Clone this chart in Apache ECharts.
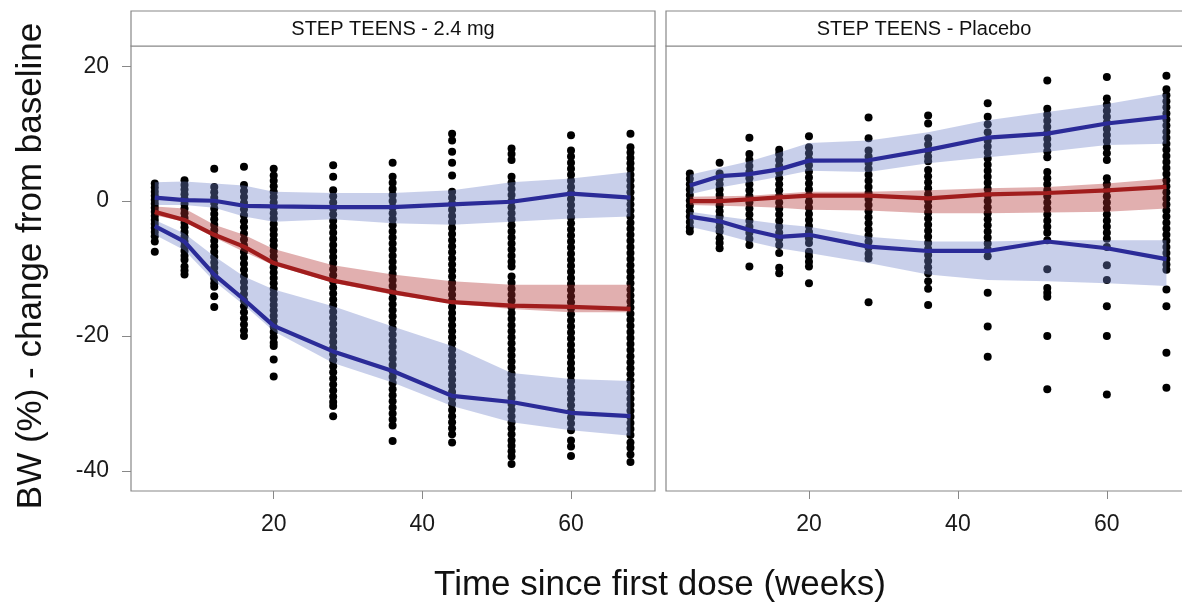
<!DOCTYPE html>
<html>
<head>
<meta charset="utf-8">
<script src="https://cdn.jsdelivr.net/npm/echarts@6/dist/echarts.min.js"></script>
<style>
html,body{margin:0;padding:0;background:#fff;}
#chart{width:1182px;height:606px;}
</style>
</head>
<body>
<div id="chart"></div>
<script>
// ---------------- data ----------------
const weeks = [4, 8, 12, 16, 20, 28, 36, 44, 52, 60, 68];
const xTicks = [20, 40, 60];
const yTicks = [-40, -20, 0, 20];
const panelTitles = ['STEP TEENS - 2.4 mg', 'STEP TEENS - Placebo'];
const xTitle = 'Time since first dose (weeks)';
const yTitle = 'BW (%) - change from baseline';

// Semaglutide 2.4 mg: simulated percentiles (lines) and their CIs (bands)
const semaP95 = [0.5, 0.15, 0.05, -0.7, -0.8, -0.9, -0.9, -0.5, -0.1, 1.1, 0.5];
const semaP95Hi = [2.8, 2.9, 2.6, 2.3, 1.4, 1.2, 1.2, 1.6, 2.8, 3.35, 4.3];
const semaP95Lo = [-0.6, -0.6, -1.0, -2.3, -3.05, -2.7, -3.3, -3.5, -3.05, -2.6, -2.3];
const semaP50 = [-1.6, -2.8, -5.0, -6.75, -9.2, -11.8, -13.5, -15.0, -15.5, -15.7, -16.0];
const semaP50Hi = [-0.8, -1.1, -3.5, -5.0, -7.1, -9.5, -10.9, -11.9, -12.4, -12.4, -12.4];
const semaP50Lo = [-2.1, -3.05, -5.4, -7.5, -9.5, -12.1, -13.9, -15.2, -16.0, -16.5, -16.5];
const semaP05 = [-3.7, -6.0, -10.9, -14.6, -18.5, -22.3, -25.2, -28.9, -29.8, -31.4, -31.9];
const semaP05Hi = [-2.8, -4.8, -8.2, -11.2, -13.1, -15.6, -18.6, -21.5, -25.5, -26.4, -26.7];
const semaP05Lo = [-5.0, -7.3, -11.9, -15.4, -19.3, -24.0, -26.9, -30.4, -32.8, -34.0, -34.8];

// Placebo
const plaP95 = [2.3, 3.7, 4.0, 4.7, 6.0, 6.05, 7.6, 9.4, 10.0, 11.5, 12.5];
const plaP95Hi = [3.9, 4.9, 5.9, 7.2, 8.6, 9.0, 10.2, 12.0, 13.2, 14.4, 15.9];
const plaP95Lo = [1.0, 2.0, 2.8, 3.6, 4.5, 4.3, 5.6, 6.5, 7.3, 8.3, 8.5];
const plaP50 = [0.0, 0.0, 0.25, 0.55, 0.8, 0.8, 0.4, 1.0, 1.2, 1.6, 2.1];
const plaP50Hi = [0.65, 0.7, 0.8, 1.1, 1.4, 1.4, 1.6, 1.9, 2.1, 2.6, 3.35];
const plaP50Lo = [-0.6, -0.7, -0.8, -1.0, -1.3, -1.4, -1.8, -1.8, -1.7, -1.6, -1.1];
const plaP05 = [-2.3, -3.0, -4.3, -5.3, -5.0, -6.75, -7.4, -7.4, -6.0, -7.0, -8.6];
const plaP05Hi = [-1.6, -2.2, -2.8, -3.4, -3.8, -5.3, -6.0, -6.0, -5.8, -5.8, -5.8];
const plaP05Lo = [-3.8, -4.8, -6.0, -7.0, -7.7, -9.2, -10.9, -11.7, -11.9, -12.2, -12.6];

// Observed individual values (one list per week), 2.4 mg
const semaObs = [
  [2.6, 2.0, 1.4, 0.8, 0.2, -0.4, -1.0, -1.6, -2.2, -2.8, -3.4, -4.0, -4.6, -5.2, -6.0, -7.5],
  [3.1, 2.4, 1.7, 1.0, 0.3, -0.4, -1.1, -1.8, -2.5, -3.2, -3.9, -4.6, -5.3, -6.0, -6.7, -7.4, -8.1, -8.7, -9.7, -10.3, -10.9],
  [4.8, 2.1, 1.3, 0.5, -0.3, -1.1, -1.9, -2.7, -3.5, -4.3, -5.1, -5.9, -6.7, -7.5, -8.3, -9.1, -9.9, -10.7, -11.5, -12.2, -12.7, -14.1, -15.7],
  [5.1, 2.4, 1.5, 0.6, -0.3, -1.2, -2.1, -3.0, -3.9, -4.8, -5.7, -6.6, -7.5, -8.4, -9.3, -10.2, -11.1, -12.0, -12.9, -13.8, -14.7, -15.6, -16.5, -17.4, -18.3, -19.2, -20.0],
  [4.8, 3.8, 3.0, 2.2, 1.4, 0.6, -0.2, -1.0, -1.8, -2.6, -3.4, -4.2, -5.0, -5.8, -6.6, -7.4, -8.2, -9.0, -9.8, -10.6, -11.4, -12.2, -13.0, -13.8, -14.6, -15.4, -16.2, -17.0, -17.8, -18.6, -19.4, -20.2, -21.0, -21.5, -23.5, -26.0],
  [5.3, 3.6, 1.6, 0.7, -0.2, -1.1, -2.0, -2.9, -3.8, -4.7, -5.6, -6.5, -7.4, -8.3, -9.2, -10.1, -11.0, -11.9, -12.8, -13.7, -14.6, -15.5, -16.4, -17.3, -18.2, -19.1, -20.0, -20.9, -21.8, -22.7, -23.6, -24.5, -25.4, -26.3, -27.2, -28.1, -29.0, -29.8, -30.4, -31.9],
  [5.7, 3.6, 2.7, 1.8, 0.9, 0.0, -0.9, -1.8, -2.7, -3.6, -4.5, -5.4, -6.3, -7.2, -8.1, -9.0, -9.9, -10.8, -11.7, -12.6, -13.5, -14.4, -15.3, -16.2, -17.1, -18.0, -18.9, -19.8, -20.7, -21.6, -22.5, -23.4, -24.3, -25.2, -26.1, -27.0, -27.9, -28.8, -29.7, -30.6, -31.5, -32.4, -33.3, -35.6],
  [10.0, 9.0, 7.3, 5.7, 3.8, 1.4, 0.5, -0.4, -1.3, -2.2, -3.1, -4.0, -4.9, -5.8, -6.7, -7.6, -8.5, -9.4, -10.3, -11.2, -12.1, -13.0, -13.9, -14.8, -15.7, -16.6, -17.5, -18.4, -19.3, -20.2, -21.1, -22.0, -22.9, -23.8, -24.7, -25.6, -26.5, -27.4, -28.3, -29.2, -30.1, -31.0, -31.9, -32.8, -33.7, -34.6, -35.8],
  [7.8, 7.0, 6.1, 3.6, 2.7, 1.8, 0.9, 0.0, -0.9, -1.8, -2.7, -3.6, -4.5, -5.4, -6.3, -7.2, -8.1, -9.0, -9.7, -11.2, -12.1, -13.0, -13.9, -14.8, -15.7, -16.6, -17.5, -18.4, -19.3, -20.2, -21.1, -22.0, -22.9, -23.8, -24.7, -25.6, -26.5, -27.4, -28.3, -29.2, -30.1, -31.0, -31.9, -32.8, -33.7, -34.6, -35.5, -36.3, -37.1, -37.9, -39.0],
  [9.75, 7.5, 6.6, 5.7, 4.8, 3.9, 3.0, 2.1, 1.2, 0.3, -0.6, -1.5, -2.4, -3.3, -4.2, -5.1, -6.0, -6.9, -7.8, -8.7, -9.6, -10.5, -11.4, -12.3, -13.2, -14.1, -15.0, -15.9, -16.8, -17.7, -18.6, -19.5, -20.4, -21.3, -22.2, -23.1, -24.0, -24.9, -25.8, -26.7, -27.6, -28.5, -29.4, -30.3, -31.2, -32.1, -33.0, -34.0, -35.5, -36.4, -37.8],
  [10.0, 8.0, 7.2, 6.4, 5.6, 4.8, 3.9, 3.1, 2.2, 1.3, 0.4, -0.5, -1.4, -2.3, -3.2, -4.1, -5.0, -5.9, -6.8, -7.7, -8.6, -9.5, -10.4, -11.3, -12.2, -13.1, -14.0, -14.9, -15.8, -16.7, -17.6, -18.5, -19.4, -20.3, -21.2, -22.1, -23.0, -23.9, -24.8, -25.7, -26.6, -27.5, -28.4, -29.3, -30.2, -31.1, -32.0, -32.9, -33.8, -34.7, -35.8, -36.6, -37.6, -38.7]
];

// Observed individual values, placebo
const plaObs = [
  [4.1, 3.3, 2.5, 1.7, 0.9, 0.1, -0.7, -1.5, -2.3, -3.1, -3.9, -4.5],
  [5.7, 4.1, 3.3, 2.5, 1.7, 0.9, 0.1, -0.7, -1.5, -2.3, -3.1, -3.9, -4.5, -5.5, -6.2, -7.0],
  [9.4, 7.0, 6.1, 5.2, 4.3, 3.4, 2.5, 1.6, 0.7, -0.2, -1.1, -2.0, -2.9, -3.8, -4.7, -5.6, -6.5, -9.7],
  [7.6, 7.0, 6.1, 5.2, 4.3, 3.4, 2.5, 1.6, 0.7, -0.2, -1.1, -2.0, -2.9, -3.8, -4.7, -5.6, -6.5, -7.7, -9.9, -10.7],
  [9.6, 8.0, 7.1, 6.2, 5.3, 4.4, 3.5, 2.6, 1.7, 0.8, -0.1, -1.0, -1.9, -2.8, -3.7, -4.6, -5.5, -6.2, -7.5, -8.2, -9.0, -9.7, -12.2],
  [12.4, 9.3, 7.5, 6.6, 5.7, 4.8, 3.9, 3.0, 2.1, 1.2, 0.3, -0.6, -1.5, -2.4, -3.3, -4.2, -5.1, -6.0, -6.9, -7.8, -8.5, -15.0],
  [12.7, 11.5, 9.3, 8.4, 7.5, 6.6, 5.9, 4.6, 3.7, 2.8, 1.9, 1.0, 0.1, -0.8, -1.7, -2.6, -3.5, -4.4, -5.3, -6.2, -7.1, -8.0, -8.9, -9.8, -10.7, -11.9, -13.0, -15.4],
  [14.5, 12.5, 11.4, 10.2, 9.0, 8.1, 7.2, 6.3, 5.4, 4.5, 3.6, 2.7, 1.8, 0.9, 0.0, -0.9, -1.8, -2.7, -3.6, -4.5, -5.4, -6.3, -7.2, -8.2, -13.6, -18.6, -23.1],
  [17.9, 13.7, 12.8, 11.9, 11.0, 10.1, 9.2, 8.3, 7.4, 6.5, 4.3, 3.4, 2.5, 1.6, 0.7, -0.2, -1.1, -2.0, -2.9, -3.8, -4.7, -5.8, -10.1, -12.9, -13.6, -14.2, -20.0, -27.9],
  [18.4, 15.2, 14.3, 13.4, 12.5, 11.6, 10.7, 9.8, 8.9, 8.0, 7.1, 6.1, 3.4, 2.5, 1.6, 0.7, -0.2, -1.1, -2.0, -2.9, -3.8, -4.7, -5.6, -6.8, -9.5, -11.7, -15.6, -20.0, -28.7],
  [18.6, 16.6, 15.7, 14.8, 13.9, 13.0, 12.1, 11.2, 10.3, 9.4, 8.5, 7.6, 6.7, 5.8, 4.9, 4.0, 3.1, 2.2, 1.3, 0.4, -0.5, -1.4, -2.3, -3.2, -4.1, -5.0, -5.9, -6.8, -7.7, -8.6, -9.4, -10.2, -13.1, -15.6, -22.5, -27.7]
];

// ---------------- styling ----------------
const FONT = 'Liberation Sans';
const FRAME = '#888888';
const BLUE = '#2b2b98';
const RED = '#a11d1d';
const BLUE_BAND = 'rgba(110,130,200,0.38)';
const RED_BAND = 'rgba(175,45,45,0.38)';
const X_MIN = 0.8, X_MAX = 71.3, Y_MIN = -43, Y_MAX = 23;

const chart = echarts.init(document.getElementById('chart'), null, {renderer: 'canvas'});

function toPts(vals) { return weeks.map((w, i) => [w, vals[i]]); }
function obsPts(obs) {
  const out = [];
  obs.forEach((col, i) => col.forEach(v => out.push([weeks[i], v])));
  return out;
}
function band(idx, hi, lo, color) {
  return {
    type: 'custom', xAxisIndex: idx, yAxisIndex: idx, silent: true, z: 3,
    data: [[weeks[0], hi[0]]],
    renderItem: function (params, api) {
      const pts = [];
      for (let i = 0; i < weeks.length; i++) pts.push(api.coord([weeks[i], hi[i]]));
      for (let i = weeks.length - 1; i >= 0; i--) pts.push(api.coord([weeks[i], lo[i]]));
      return {type: 'polygon', shape: {points: pts}, style: {fill: color, stroke: null}};
    }
  };
}
function line(idx, vals, color) {
  return {
    type: 'line', xAxisIndex: idx, yAxisIndex: idx, data: toPts(vals), z: 4,
    symbol: 'none', silent: true, lineStyle: {color: color, width: 4.2}
  };
}
function scatter(idx, obs) {
  return {
    type: 'scatter', xAxisIndex: idx, yAxisIndex: idx, data: obsPts(obs), z: 2,
    symbol: 'circle', symbolSize: 8, silent: true, itemStyle: {color: '#000', opacity: 1}
  };
}
function xAxis(idx) {
  return {
    type: 'value', gridIndex: idx, min: X_MIN, max: X_MAX,
    axisLine: {show: false, onZero: false}, splitLine: {show: false},
    axisTick: {show: true, customValues: xTicks, length: 8, lineStyle: {color: FRAME}},
    axisLabel: {customValues: xTicks, fontFamily: FONT, fontSize: 23, color: '#1a1a1a', margin: 22}
  };
}
function yAxis(idx, labels) {
  return {
    type: 'value', gridIndex: idx, min: Y_MIN, max: Y_MAX,
    axisLine: {show: false, onZero: false}, splitLine: {show: false},
    axisTick: {show: labels, customValues: yTicks, length: 9, lineStyle: {color: FRAME}},
    axisLabel: {show: labels, customValues: yTicks, fontFamily: FONT, fontSize: 23, color: '#1a1a1a', margin: 22}
  };
}

const option = {
  animation: false,
  backgroundColor: '#fff',
  grid: [
    {left: 131, top: 46, width: 524, height: 445, show: true, borderColor: FRAME, borderWidth: 1.2,
     backgroundColor: 'transparent', containLabel: false, outerBoundsMode: 'none'},
    {left: 666, top: 46, width: 525, height: 445, show: true, borderColor: FRAME, borderWidth: 1.2,
     backgroundColor: 'transparent', containLabel: false, outerBoundsMode: 'none'}
  ],
  xAxis: [xAxis(0), xAxis(1)],
  yAxis: [yAxis(0, true), yAxis(1, false)],
  graphic: [
    {type: 'rect', shape: {x: 131, y: 11, width: 524, height: 35}, style: {fill: '#fff', stroke: FRAME, lineWidth: 1.2}},
    {type: 'rect', shape: {x: 666, y: 11, width: 525, height: 35}, style: {fill: '#fff', stroke: FRAME, lineWidth: 1.2}},
    {type: 'text', x: 393, y: 29, style: {text: panelTitles[0], fontFamily: FONT, fontSize: 20, fill: '#111', align: 'center', verticalAlign: 'middle'}},
    {type: 'text', x: 924, y: 29, style: {text: panelTitles[1], fontFamily: FONT, fontSize: 20, fill: '#111', align: 'center', verticalAlign: 'middle'}},
    {type: 'text', x: 660, y: 585, style: {text: xTitle, fontFamily: FONT, fontSize: 35, fill: '#111', align: 'center', verticalAlign: 'middle'}},
    {type: 'text', x: 31, y: 266, rotation: Math.PI / 2, style: {text: yTitle, fontFamily: FONT, fontSize: 35, fill: '#111', align: 'center', verticalAlign: 'middle'}}
  ],
  series: [
    scatter(0, semaObs),
    band(0, semaP95Hi, semaP95Lo, BLUE_BAND),
    band(0, semaP50Hi, semaP50Lo, RED_BAND),
    band(0, semaP05Hi, semaP05Lo, BLUE_BAND),
    line(0, semaP95, BLUE),
    line(0, semaP50, RED),
    line(0, semaP05, BLUE),
    scatter(1, plaObs),
    band(1, plaP95Hi, plaP95Lo, BLUE_BAND),
    band(1, plaP50Hi, plaP50Lo, RED_BAND),
    band(1, plaP05Hi, plaP05Lo, BLUE_BAND),
    line(1, plaP95, BLUE),
    line(1, plaP50, RED),
    line(1, plaP05, BLUE)
  ]
};
chart.setOption(option);
</script>
</body>
</html>
